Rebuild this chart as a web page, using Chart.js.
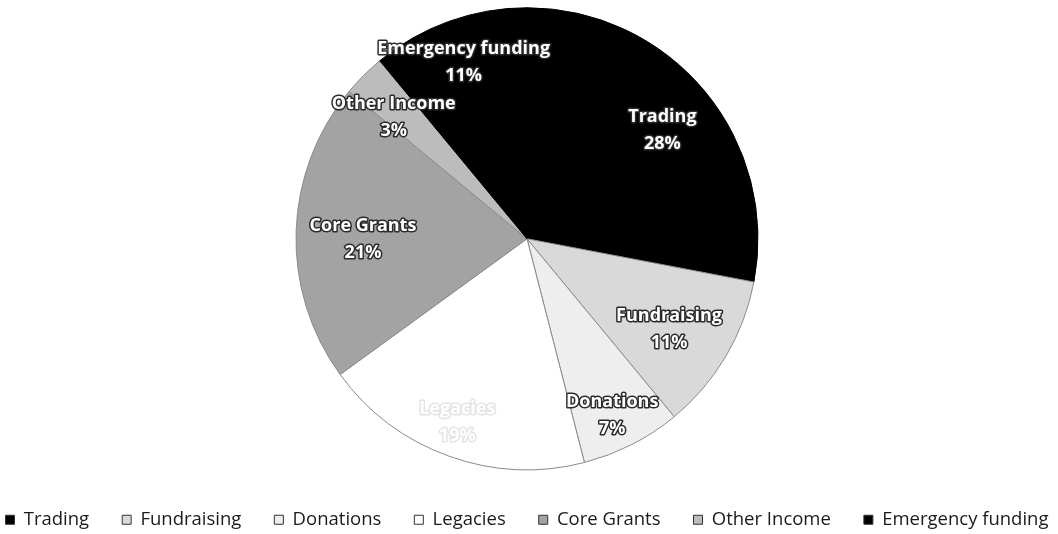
<!DOCTYPE html>
<html><head><meta charset="utf-8">
<script src="https://cdn.jsdelivr.net/npm/chart.js@4.4.1/dist/chart.umd.min.js"></script>
<style>
html,body{margin:0;padding:0;background:#fff;overflow:hidden;width:1058px;height:534px;}
#wrap{position:relative;width:1058px;height:534px;overflow:hidden;}
#c{position:absolute;left:-40px;top:0;}
</style>
</head><body><div id="wrap"><canvas id="c" width="1134" height="539"></canvas></div>
<script>
const categories = ['Trading','Fundraising','Donations','Legacies','Core Grants','Other Income','Emergency funding'];
const shares = [28, 11, 7, 19, 21, 3, 11];
const sliceColors = ['#000000','#d9d9d9','#eeeeee','#ffffff','#a3a3a3','#bcbcbc','#000000'];
const sliceBorders = ['#000000','#8a8a8a','#8a8a8a','#8a8a8a','#8a8a8a','#8a8a8a','#000000'];
const labelRadius = [0.75, 0.73, 0.85, 0.85, 0.71, 0.78, 0.81];
const labelAngleShift = [1, 2, 1.3, 1, -2, -2.7, 0];

const labelPlugin = {
  id: 'sliceLabels',
  afterDatasetsDraw(chart) {
    const ctx = chart.ctx;
    const meta = chart.getDatasetMeta(0);
    const total = shares.reduce((a, b) => a + b, 0);
    ctx.save();
    ctx.font = 'bold 18px "Open Sans"';
    ctx.textAlign = 'center';
    ctx.textBaseline = 'middle';
    ctx.lineJoin = 'round';
    meta.data.forEach((arc, i) => {
      const p = arc.getProps(['x','y','startAngle','endAngle','outerRadius'], true);
      const mid = (p.startAngle + p.endAngle) / 2 + labelAngleShift[i] * Math.PI / 180;
      const r = p.outerRadius * labelRadius[i];
      const cx = p.x + Math.cos(mid) * r, cy = p.y + Math.sin(mid) * r;
      const lines = [categories[i], Math.round(shares[i] / total * 100) + '%'];
      lines.forEach((t, k) => {
        const ty = cy + (k - 0.5) * 27;
        ctx.lineWidth = 3;
        ctx.strokeStyle = i === 3 ? '#e4e4e4' : '#2a2a2a';
        ctx.strokeText(t, cx, ty);
        ctx.fillStyle = '#ffffff';
        ctx.fillText(t, cx, ty);
      });
    });
    ctx.restore();
  }
};

function build() {
  new Chart(document.getElementById('c'), {
    type: 'pie',
    data: {
      labels: categories,
      datasets: [{
        data: shares,
        backgroundColor: sliceColors,
        borderColor: sliceBorders,
        borderWidth: 1,
        radius: 231
      }]
    },
    options: {
      responsive: false,
      devicePixelRatio: 1,
      animation: false,
      layout: { padding: 0 },
      plugins: {
        tooltip: { enabled: false },
        legend: {
          position: 'bottom',
          labels: {
            boxWidth: 9,
            boxHeight: 9,
            padding: 33,
            color: '#1a1a1a',
            font: { family: '"Open Sans"', size: 18.5 },
            generateLabels(chart) {
              const items = Chart.overrides.pie.plugins.legend.labels.generateLabels(chart);
              items.forEach(it => { it.strokeStyle = '#333'; it.lineWidth = 1; });
              return items;
            }
          }
        }
      }
    },
    plugins: [labelPlugin]
  });
}
Promise.all([
  document.fonts.load('18px "Open Sans"'),
  document.fonts.load('bold 18px "Open Sans"')
]).then(build, build);
</script>
</body></html>
